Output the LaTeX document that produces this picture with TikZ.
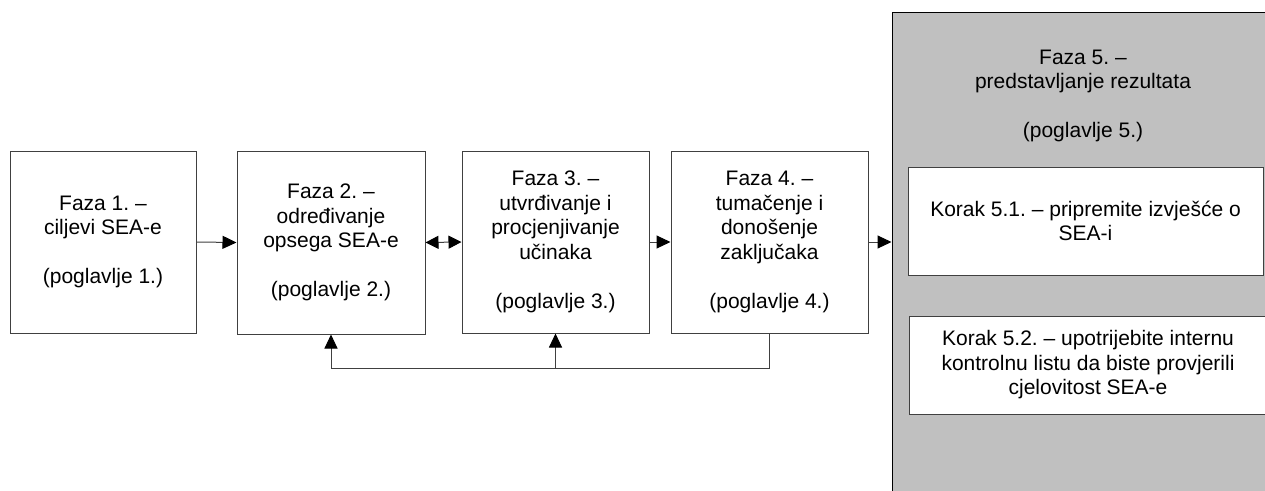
\documentclass[tikz,border=0pt]{standalone}
\usepackage{fontspec}
\setmainfont{Liberation Sans}
\usetikzlibrary{arrows.meta}
\definecolor{boxline}{RGB}{64,64,64}
\definecolor{panelgrey}{RGB}{192,192,192}
\frenchspacing
\begin{document}
\begin{tikzpicture}[x=1pt,y=-1pt,
  txt/.style={font=\fontsize{21}{24.5}\selectfont, align=center},
  box/.style={txt, draw=boxline, line width=1pt, fill=white, inner sep=0pt},
  conn/.style={draw=boxline, line width=1pt},
  arr/.style={conn, -{Triangle[length=14pt,width=13pt,color=black]}},
  darr/.style={conn, {Triangle[length=13pt,width=13pt,color=black]}-{Triangle[length=13pt,width=13pt,color=black]}}
]
\useasboundingbox (0,0) rectangle (1265,490);
\clip (0,0) rectangle (1265,490);
\fill[white] (0,0) rectangle (1265,490);

\node[box, minimum width=186pt, minimum height=182pt] (b1) at (103,242)
  {Faza 1. --\\ciljevi SEA-e\\[24.5pt](poglavlje 1.)};
\node[box, minimum width=188pt, minimum height=183pt] (b2) at (331,242.5)
  {Faza 2. --\\određivanje\\opsega SEA-e\\[24.5pt](poglavlje 2.)};
\node[box, minimum width=187pt, minimum height=182pt] (b3) at (555.5,242)
  {Faza 3. --\\utvrđivanje i\\procjenjivanje\\učinaka\\[24.5pt](poglavlje 3.)};
\node[box, minimum width=197pt, minimum height=182pt] (b4) at (769.5,242)
  {Faza 4. --\\tumačenje i\\donošenje\\zaključaka\\[24.5pt](poglavlje 4.)};

\node[draw=black, line width=1pt, fill=panelgrey, minimum width=382pt, minimum height=498pt, inner sep=0pt] (f5) at (1083,261) {};
\node[txt] (f5t) at (1083,96) {Faza 5. --\\predstavljanje rezultata\\[24.5pt](poglavlje 5.)};
\node[box, minimum width=355pt, minimum height=108pt] (k51) at (1085.5,221)
  {Korak 5.1. -- pripremite izvješće o\\SEA-i};
\node[box, minimum width=358pt, minimum height=98pt] (k52) at (1088,365)
  {Korak 5.2. -- upotrijebite internu\\kontrolnu listu da biste provjerili\\cjelovitost SEA-e};

\draw[arr] (b1.east) -- (b2.west);
\draw[darr] (b2.east) -- (b3.west);
\draw[arr] (b3.east) -- (b4.west);
\draw[arr] (b4.east) -- (b4.east -| f5.west);

\coordinate (fb) at (770,368);
\draw[arr] (b4.south) -- (b4.south |- fb) -| (b2.south);
\draw[arr] (b3.south |- fb) -- (b3.south);
\end{tikzpicture}
\end{document}
